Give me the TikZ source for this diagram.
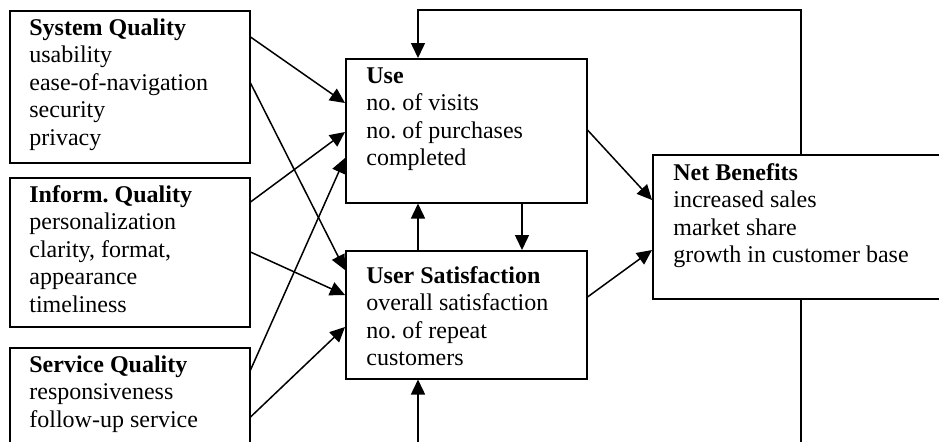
\documentclass[tikz,border=0pt]{standalone}
\usepackage{fontspec}
\setmainfont{Liberation Serif}
\usetikzlibrary{arrows.meta}
\frenchspacing
% stacked lines whose baseline is that of the first line
\newcommand{\boxlines}[1]{\begin{tabular}[t]{@{}l@{}}#1\end{tabular}}
\begin{document}
\begin{tikzpicture}[x=0.5pt,y=-0.5pt,
  box/.style={draw, line width=0.75pt, fill=white, anchor=north west, inner sep=0pt},
  txt/.style={anchor=base west, inner sep=0pt, font=\fontsize{12}{13.8}\selectfont},
  link/.style={line width=0.75pt, -{Triangle[length=7.5pt,width=7pt]}},
  plain/.style={line width=0.75pt}]
\useasboundingbox (0,0) rectangle (939,441);

% boxes
\node[box, minimum width=120pt, minimum height=76pt]   (sq)  at (9,10)   {};
\node[box, minimum width=120pt, minimum height=74.5pt] (iq)  at (9,177)  {};
\node[box, minimum width=120pt, minimum height=60pt]   (sv)  at (9,347)  {};
\node[box, minimum width=120.5pt, minimum height=72pt] (use) at (345,58) {};
\node[box, minimum width=120.5pt, minimum height=64pt] (us)  at (345,250) {};
\node[box, minimum width=160pt, minimum height=72pt]   (nb)  at (652,154) {};

% box texts
\node[txt] (sqt)  at (29,35)   {\boxlines{\textbf{System Quality}\\usability\\ease-of-navigation\\security\\privacy}};
\node[txt] (iqt)  at (29,202)  {\boxlines{\textbf{Inform. Quality}\\personalization\\clarity, format,\\appearance\\timeliness}};
\node[txt] (svt)  at (29,372)  {\boxlines{\textbf{Service Quality}\\responsiveness\\follow-up service}};
\node[txt] (uset) at (366,83)  {\boxlines{\textbf{Use}\\no. of visits\\no. of purchases\\completed}};
\node[txt] (ust)  at (366,283) {\boxlines{\textbf{User Satisfaction}\\overall satisfaction\\no. of repeat\\customers}};
\node[txt] (nbt)  at (673,180) {\boxlines{\textbf{Net Benefits}\\increased sales\\market share\\growth in customer base}};

% quality dimensions to use and satisfaction
\draw[link] (sq.east |- 0,37)  -- (use.west |- 0,103);
\draw[link] (sq.east |- 0,83)  -- (us.west |- 0,270);
\draw[link] (iq.east |- 0,202) -- (use.west |- 0,132);
\draw[link] (iq.east |- 0,252) -- (us.west |- 0,295);
\draw[link] (sv.east |- 0,370) -- (use.west |- 0,158);
\draw[link] (sv.east |- 0,417) -- (us.west |- 0,327);

% use <-> satisfaction
\coordinate (colA) at (418,0);
\coordinate (colB) at (522,0);
\draw[link] (use.south -| colB) -- (us.north -| colB);
\draw[link] (us.north -| colA) -- (use.south -| colA);

% to net benefits
\draw[link] (use.east |- 0,130) -- (nb.west |- 0,200);
\draw[link] (us.east |- 0,297)  -- (nb.west |- 0,250);

% feedback loops
\coordinate (loopR) at (801,10);
\coordinate (loopL) at (418,10);
\draw[link] (nb.north -| loopR) -- (loopR) -- (loopL) -- (use.north -| loopL);
\coordinate (outR) at (801,445);
\draw[plain] (nb.south -| outR) -- (outR);
\coordinate (inL) at (418,445);
\draw[link] (inL) -- (us.south -| inL);
\end{tikzpicture}
\end{document}
